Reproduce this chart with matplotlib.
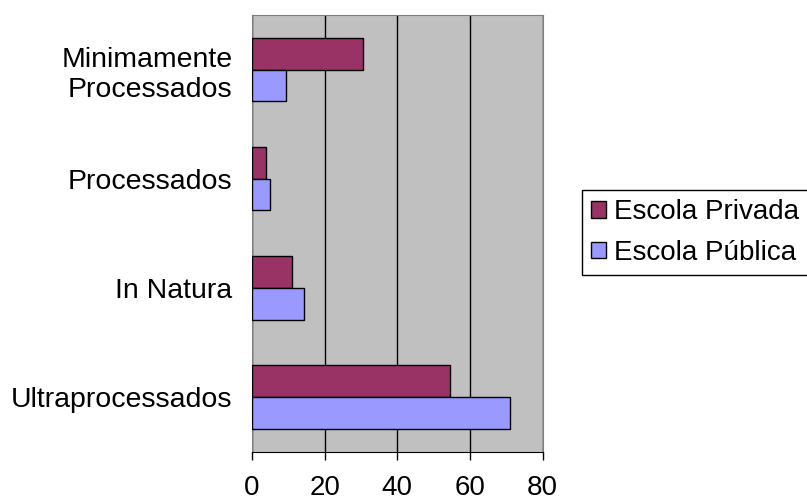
import matplotlib
matplotlib.use('Agg')
import matplotlib.pyplot as plt
import numpy as np

plt.rcParams['font.family'] = ['Liberation Sans', 'DejaVu Sans']

categorias = ['Ultraprocessados', 'In Natura', 'Processados', 'Minimamente\nProcessados']
privada = [54.6, 11.0, 3.9, 30.5]
publica = [71.1, 14.4, 5.0, 9.4]
series = ['Escola Privada', 'Escola Pública']
cores = ['#993366', '#9999FF']
xticks = [0, 20, 40, 60, 80]

fig = plt.figure(figsize=(8.07, 5.0), dpi=100)
ax = fig.add_axes([0.3123, 0.0966, 0.3602, 0.8734])
ax.set_facecolor('#C0C0C0')

y = np.arange(len(categorias))
h = 0.29
ax.barh(y + h / 2, privada, height=h, color=cores[0], edgecolor='black', linewidth=1, label=series[0], zorder=3)
ax.barh(y - h / 2, publica, height=h, color=cores[1], edgecolor='black', linewidth=1, label=series[1], zorder=3)

ax.set_xlim(0, 80)
ax.set_ylim(-0.5, 3.5)
ax.set_xticks(xticks)
ax.set_yticks(y)
ax.set_yticklabels(categorias, multialignment='right')
ax.xaxis.grid(True, color='black', linewidth=1, zorder=1)
ax.set_axisbelow(True)

ax.tick_params(axis='x', direction='out', length=6, width=1, pad=11, labelsize=20, color='black')
ax.tick_params(axis='y', length=0, pad=14, labelsize=20.5)

for s in ['left', 'right', 'top']:
    ax.spines[s].set_color('#808080')
ax.spines['bottom'].set_color('black')

leg = fig.legend(loc='center left', bbox_to_anchor=(0.7208, 0.535), fontsize=20,
                 frameon=True, fancybox=False, edgecolor='black', framealpha=1,
                 handlelength=0.55, handleheight=0.55, handletextpad=0.28,
                 borderpad=0.33, labelspacing=0.52, borderaxespad=0)
leg.get_frame().set_linewidth(1)

plt.savefig('out.png', dpi=100)
